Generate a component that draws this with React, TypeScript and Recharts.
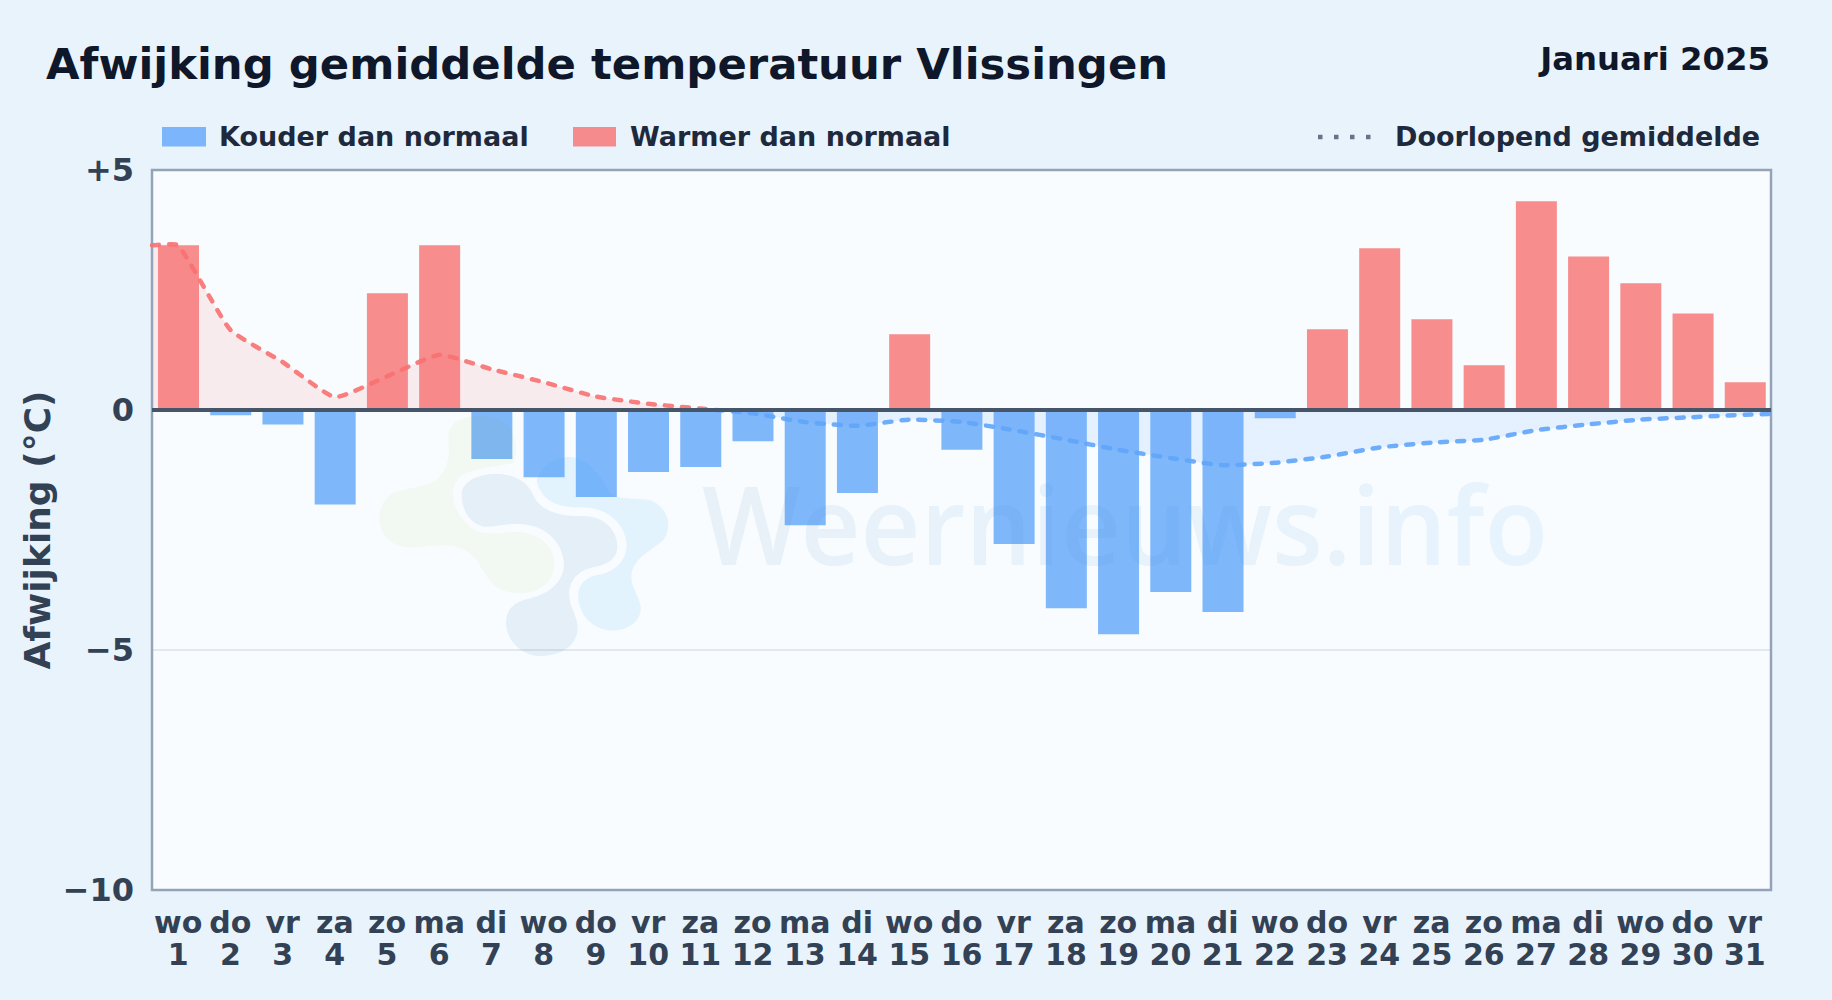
import React from "react";
import { ComposedChart, Bar, Line, Area, XAxis, YAxis, CartesianGrid, ReferenceLine, ReferenceArea } from "recharts";

const weekdays = ["wo","do","vr","za","zo","ma","di","wo","do","vr","za","zo","ma","di","wo","do","vr","za","zo","ma","di","wo","do","vr","za","zo","ma","di","wo","do","vr"];
const deviation = [3.43,-0.11,-0.3,-1.97,2.43,3.43,-1.02,-1.4,-1.81,-1.29,-1.19,-0.65,-2.4,-1.73,1.58,-0.83,-2.79,-4.13,-4.67,-3.79,-4.21,-0.17,1.68,3.37,1.89,0.93,4.35,3.2,2.64,2.01,0.58];
const runningMean = [3.43,1.67,1.0,0.27,0.7,1.15,0.85,0.58,0.28,0.13,0.03,-0.07,-0.25,-0.33,-0.2,-0.25,-0.42,-0.62,-0.83,-1.0,-1.15,-1.1,-0.97,-0.78,-0.68,-0.62,-0.42,-0.3,-0.2,-0.15,-0.1];
const meanAtLeftEdge = 3.43;
const meanAtRightEdge = -0.08;
const yTicks = [-10,-5,0,5];
const yLabels: Record<number,string> = { "-10": "\u221210", "-5": "\u22125", "0": "0", "5": "+5" };

const dayNumbers = weekdays.map((_, i) => i + 1);
const barRows = dayNumbers.map((day, i) => ({
  day,
  cold: deviation[i] < 0 ? deviation[i] : null,
  warm: deviation[i] >= 0 ? deviation[i] : null,
}));
const meanRows = [
  { day: 0.5, mean: meanAtLeftEdge },
  ...dayNumbers.map((day, i) => ({ day, mean: runningMean[i] })),
  { day: 31.5, mean: meanAtRightEdge },
];

const font = "'DejaVu Sans', sans-serif";
const maxMean = Math.max(...runningMean);
const minMean = Math.min(...runningMean);
const split = `${(maxMean / (maxMean - minMean)) * 100}%`;

// Spline with a fixed tension, used as the curve of the running mean.
const tension = 0.15;
function softCurve(context: any) {
  let line = NaN;
  let pts: [number, number][] = [];
  return {
    areaStart() { line = 0; },
    areaEnd() { line = NaN; },
    lineStart() { pts = []; },
    point(x: number, y: number) { pts.push([+x, +y]); },
    lineEnd() {
      const ctrl = pts.map((p, i) => {
        const a = pts[Math.max(i - 1, 0)];
        const b = pts[Math.min(i + 1, pts.length - 1)];
        const d0 = Math.hypot(p[0] - a[0], p[1] - a[1]);
        const d1 = Math.hypot(b[0] - p[0], b[1] - p[1]);
        const sum = d0 + d1 || 1;
        const fa = (tension * d0) / sum;
        const fb = (tension * d1) / sum;
        return {
          prev: [p[0] - fa * (b[0] - a[0]), p[1] - fa * (b[1] - a[1])],
          next: [p[0] + fb * (b[0] - a[0]), p[1] + fb * (b[1] - a[1])],
        };
      });
      pts.forEach((p, i) => {
        if (i === 0) {
          if (line) context.lineTo(p[0], p[1]);
          else context.moveTo(p[0], p[1]);
        } else {
          context.bezierCurveTo(ctrl[i - 1].next[0], ctrl[i - 1].next[1], ctrl[i].prev[0], ctrl[i].prev[1], p[0], p[1]);
        }
      });
      if (line || (line !== 0 && pts.length === 1)) context.closePath();
      line = 1 - line;
    },
  };
}

function DayTick({ x, y, payload }: any) {
  return (
    <text x={x} textAnchor="middle" fontFamily={font} fontWeight={700} fontSize={30} fill="#334155">
      <tspan x={x} y={y + 35}>{weekdays[payload.value - 1]}</tspan>
      <tspan x={x} y={y + 67}>{payload.value}</tspan>
    </text>
  );
}

function Watermark() {
  return (
    <svg width={1832} height={1000} style={{ position: "absolute", left: 0, top: 0, pointerEvents: "none" }}>
      <defs>
        <linearGradient id="wmText" x1="0" x2="1" y1="0" y2="0">
          <stop offset="0%" stopColor="#4882B4" />
          <stop offset="100%" stopColor="#3a9ae8" />
        </linearGradient>
      </defs>
      <g transform="translate(370 410) scale(0.33333)">
        <path fill="#80AC00" fillOpacity={0.05} d="M 300 20 C 255 25, 232 55, 235 90 C 238 130, 240 170, 200 210 C 170 230, 120 230, 70 250 C 30 270, 20 320, 35 360 C 55 405, 100 415, 150 412 C 220 400, 280 400, 320 450 C 350 500, 370 550, 450 550 C 510 550, 555 510, 553 460 C 550 400, 500 365, 430 365 C 380 370, 330 385, 290 340 C 255 305, 230 250, 265 205 C 290 175, 380 170, 430 160 C 445 120, 440 60, 400 35 C 370 15, 330 15, 300 20 Z" />
        <path fill="#4882B4" fillOpacity={0.1} d="M 275 255 C 275 215, 320 192, 380 192 C 440 192, 475 220, 490 255 C 505 295, 560 322, 640 318 C 705 318, 745 365, 742 415 C 738 450, 710 465, 670 472 C 625 482, 595 510, 598 560 C 600 595, 625 620, 623 660 C 618 710, 570 738, 510 738 C 450 735, 410 690, 408 640 C 408 600, 430 578, 470 568 C 530 555, 580 520, 582 465 C 580 400, 530 345, 450 342 C 400 340, 370 352, 340 350 C 300 340, 275 300, 275 255 Z" />
        <path fill="#30A2F5" fillOpacity={0.1} d="M 590 140 C 540 150, 505 180, 500 215 C 515 270, 560 295, 640 292 C 720 295, 770 350, 770 410 C 765 465, 720 490, 680 495 C 640 505, 620 530, 625 570 C 635 630, 680 662, 730 662 C 780 660, 815 630, 812 590 C 805 550, 780 530, 785 490 C 795 440, 850 420, 880 390 C 910 350, 895 290, 840 270 C 780 262, 740 270, 720 250 C 690 190, 650 140, 590 140 Z" />
      </g>
      <text x={702} y={565} fontFamily="'Open Sans', sans-serif" fontWeight={600} fontSize={108} textLength={846} lengthAdjust="spacingAndGlyphs" fill="url(#wmText)" fillOpacity={0.09}>Weernieuws.info</text>
    </svg>
  );
}

function Header() {
  return (
    <svg width={1832} height={168} style={{ position: "absolute", left: 0, top: 0 }}>
      <g fontFamily={font} fontWeight={700}>
        <text x={46} y={79} fontSize={43.35} fill="#0f172a">Afwijking gemiddelde temperatuur Vlissingen</text>
        <text x={1770} y={70} fontSize={32.3} fill="#0f172a" textAnchor="end">Januari 2025</text>
        <rect x={162} y={127} width={44} height={19.5} fill="#60a5fa" fillOpacity={0.8} />
        <text x={219} y={146} fontSize={27} fill="#1e293b">Kouder dan normaal</text>
        <rect x={573} y={127} width={43} height={19.5} fill="#f87171" fillOpacity={0.8} />
        <text x={630} y={146} fontSize={27} fill="#1e293b">Warmer dan normaal</text>
        <line x1={1318} x2={1373} y1={137} y2={137} stroke="#64748b" strokeWidth={4.5} strokeDasharray="4.5 11.5" />
        <text x={1395} y={146} fontSize={27} fill="#1e293b">Doorlopend gemiddelde</text>
      </g>
    </svg>
  );
}

export default function App() {
  return (
    <div style={{ position: "fixed", left: 0, top: 0, width: 1832, height: 1000, background: "#e8f3fc", overflow: "hidden" }}>
      <Header />
      <ComposedChart
        width={1832}
        height={1000}
        data={barRows}
        margin={{ top: 170, right: 61, left: 0, bottom: 0 }}
        barGap={0}
        style={{ position: "absolute", left: 0, top: 0 }}
      >
        <defs>
          <linearGradient id="meanFill" x1="0" x2="0" y1="0" y2="1">
            <stop offset="0%" stopColor="#f87171" stopOpacity={0.2} />
            <stop offset={split} stopColor="#f87171" stopOpacity={0.2} />
            <stop offset={split} stopColor="#60a5fa" stopOpacity={0.22} />
            <stop offset="100%" stopColor="#60a5fa" stopOpacity={0.22} />
          </linearGradient>
          <linearGradient id="meanLine" x1="0" x2="0" y1="0" y2="1">
            <stop offset="0%" stopColor="#f87171" />
            <stop offset={split} stopColor="#f87171" />
            <stop offset={split} stopColor="#60a5fa" />
            <stop offset="100%" stopColor="#60a5fa" />
          </linearGradient>
        </defs>
        <CartesianGrid xAxisId="days" vertical={false} fill="#f8fcff" stroke="#e2e8f0" strokeWidth={2} horizontalValues={[-5]} />
        <XAxis
          xAxisId="days"
          dataKey="day"
          type="category"
          interval={0}
          height={110}
          axisLine={false}
          tickLine={false}
          tick={<DayTick />}
        />
        <XAxis xAxisId="mean" dataKey="day" type="number" domain={[0.5, 31.5]} hide />
        <YAxis
          domain={[-10, 5]}
          ticks={yTicks}
          width={152}
          axisLine={false}
          tickLine={false}
          tickMargin={12}
          tickFormatter={(v: number) => yLabels[v]}
          tick={{ fontFamily: font, fontWeight: 700, fontSize: 32, fill: "#334155" }}
          label={{ value: "Afwijking (\u00b0C)", angle: -90, position: "insideLeft", offset: 37, style: { fontFamily: font, fontWeight: 700, fontSize: 36, fill: "#334155", textAnchor: "middle" } }}
        />
        <Area xAxisId="mean" data={meanRows} dataKey="mean" type={softCurve as any} baseValue={0} stroke="none" fill="url(#meanFill)" isAnimationActive={false} dot={false} activeDot={false} />
        <Bar xAxisId="days" dataKey="cold" stackId="d" barSize={41} fill="#60a5fa" fillOpacity={0.8} isAnimationActive={false} />
        <Bar xAxisId="days" dataKey="warm" stackId="d" barSize={41} fill="#f87171" fillOpacity={0.8} isAnimationActive={false} />
        <Line xAxisId="mean" data={meanRows} dataKey="mean" type={softCurve as any} stroke="url(#meanLine)" strokeOpacity={0.9} strokeWidth={4.5} strokeDasharray="7 10" strokeLinecap="round" dot={false} activeDot={false} isAnimationActive={false} />
        <ReferenceLine xAxisId="days" y={0} stroke="#475569" strokeWidth={4} />
        <ReferenceArea xAxisId="mean" x1={0.5} x2={31.5} y1={-10} y2={5} fill="none" stroke="#94a3b8" strokeWidth={2.5} ifOverflow="visible" />
      </ComposedChart>
      <Watermark />
    </div>
  );
}
